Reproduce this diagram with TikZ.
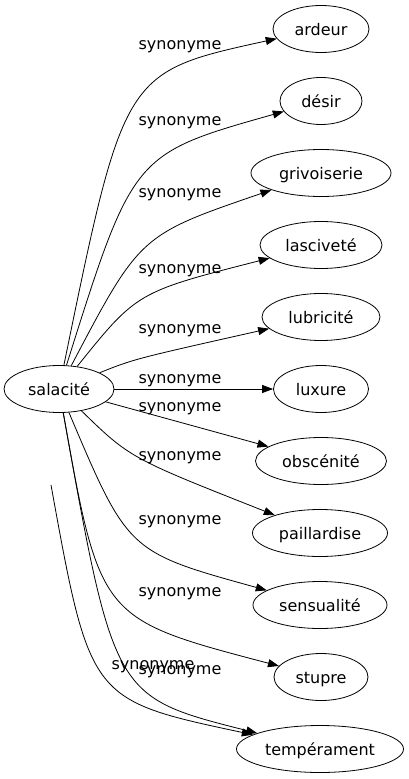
\documentclass[tikz,border=0pt]{standalone}
\usepackage{fontspec}
\setmainfont{DejaVu Sans}
\usetikzlibrary{shapes.geometric,arrows.meta}
\begin{document}
\begin{tikzpicture}[x=1pt,y=-1pt,
  every node/.style={font=\fontsize{16}{19}\selectfont},
  word/.style={draw, ellipse, line width=0.8pt, inner sep=0pt, minimum height=47pt, text height=12pt, text depth=0pt},
  lab/.style={anchor=base, inner sep=0pt},
  syn/.style={draw, line width=0.8pt, -{Triangle[length=11pt,width=8pt]}}
]
\useasboundingbox (0,0) rectangle (409,779);
\node[word, minimum width=110pt] (sal) at (59,389) {salacité};
\node[word, minimum width=96pt] (n1) at (321,29) {ardeur};
\node[word, minimum width=82pt] (n2) at (321,101) {désir};
\node[word, minimum width=140pt] (n3) at (321,173) {grivoiserie};
\node[word, minimum width=122pt] (n4) at (321,245) {lasciveté};
\node[word, minimum width=118pt] (n5) at (321,317) {lubricité};
\node[word, minimum width=95pt] (n6) at (321,389) {luxure};
\node[word, minimum width=131pt] (n7) at (321,461) {obscénité};
\node[word, minimum width=135pt] (n8) at (320,533) {paillardise};
\node[word, minimum width=134pt] (n9) at (320,605) {sensualité};
\node[word, minimum width=94pt] (n10) at (321,677) {stupre};
\node[word, minimum width=167pt] (n11) at (320,749) {tempérament};
\coordinate (t0) at (51,485);

\draw[syn] (sal) .. controls (124,72) .. (n1);
\draw[syn] (sal) .. controls (133,154) .. (n2);
\draw[syn] (sal) .. controls (140,235) .. (n3);
\draw[syn] (sal) .. controls (137,292) .. (n4);
\draw[syn] (sal) .. controls (134,359) .. (n5);
\draw[syn] (sal) -- (n6);
\draw[syn] (sal) -- (n7);
\draw[syn] (sal) .. controls (130,458) .. (n8);
\draw[syn] (sal) .. controls (128,552) .. (n9);
\draw[syn] (sal) .. controls (100,619) .. (n10);
\draw[syn] (sal) .. controls (114,697) .. (n11);
\draw[syn] (t0) .. controls (90,700) .. (n11);

\node[lab] (l1) at (180,49) {synonyme};
\node[lab] (l2) at (180,125) {synonyme};
\node[lab] (l3) at (180,197) {synonyme};
\node[lab] (l4) at (180,273) {synonyme};
\node[lab] (l5) at (180,333) {synonyme};
\node[lab] (l6) at (180,383) {synonyme};
\node[lab] (l7) at (180,411) {synonyme};
\node[lab] (l8) at (180,460) {synonyme};
\node[lab] (l9) at (180,524) {synonyme};
\node[lab] (l10) at (180,596) {synonyme};
\node[lab] (l11) at (153,669) {synonyme};
\node[lab] (l12) at (180,674) {synonyme};
\end{tikzpicture}
\end{document}
